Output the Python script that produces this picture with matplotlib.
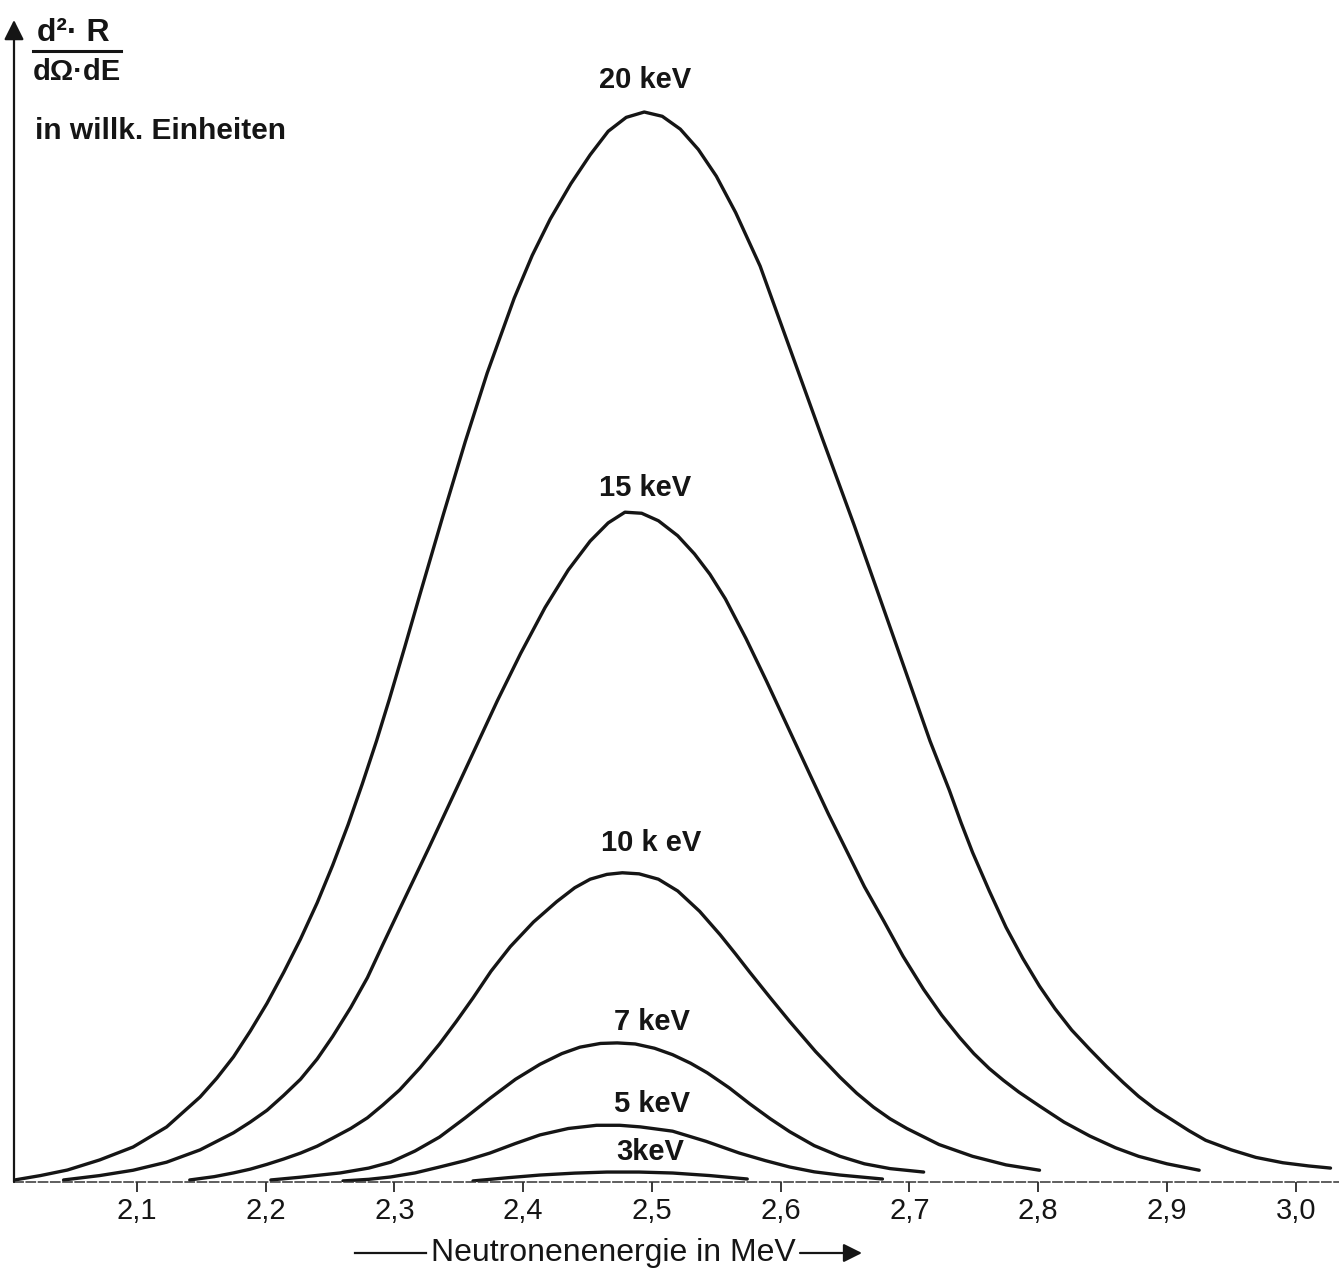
"""
Neutronenspektren d2R/(dOmega dE) fuer verschiedene Temperaturen (3 - 20 keV)
Nachbau einer alten Strichzeichnung mit matplotlib
"""

import matplotlib
matplotlib.use('Agg')
import matplotlib.pyplot as plt
from matplotlib.lines import Line2D

FONT = ['Liberation Sans', 'DejaVu Sans']
plt.rcParams['font.family'] = FONT

# --- Daten (Energie in MeV, Hoehe in willk. Einheiten) ---
e_20 = [2.005, 2.025, 2.046, 2.071, 2.097, 2.123, 2.149, 2.162, 2.175, 2.188,
        2.201, 2.214, 2.227, 2.240, 2.252, 2.264, 2.275, 2.286, 2.296, 2.308,
        2.320, 2.338, 2.355, 2.372, 2.393, 2.407, 2.421, 2.437, 2.452, 2.466,
        2.480, 2.494, 2.508, 2.522, 2.536, 2.550, 2.565, 2.584, 2.608, 2.632,
        2.657, 2.674, 2.688, 2.702, 2.716, 2.731, 2.740, 2.749, 2.762, 2.775,
        2.788, 2.801, 2.813, 2.826, 2.840, 2.853, 2.866, 2.878, 2.891, 2.904,
        2.917, 2.930, 2.950, 2.969, 2.990, 3.010, 3.027]
y_20 = [0.19, 0.6, 1.12, 2.06, 3.27, 5.14, 7.94, 9.7, 11.7, 14.1,
        16.7, 19.6, 22.7, 26.1, 29.6, 33.4, 37.2, 41.2, 45.1, 50.0,
        55.0, 62.4, 69.2, 75.6, 82.6, 86.6, 90.0, 93.3, 96.0, 98.2,
        99.5, 100.0, 99.6, 98.4, 96.5, 94.0, 90.6, 85.6, 77.6, 69.6,
        61.4, 55.6, 50.8, 46.0, 41.2, 36.6, 33.6, 30.8, 27.2, 23.8,
        20.9, 18.3, 16.2, 14.2, 12.4, 10.8, 9.3, 8.0, 6.8, 5.8,
        4.8, 3.9, 3.0, 2.3, 1.8, 1.5, 1.3]

e_15 = [2.043, 2.071, 2.097, 2.123, 2.149, 2.175, 2.188, 2.201, 2.214, 2.227,
        2.240, 2.252, 2.266, 2.279, 2.291, 2.304, 2.327, 2.346, 2.363, 2.380,
        2.398, 2.417, 2.435, 2.452, 2.466, 2.479, 2.492, 2.505, 2.520, 2.533,
        2.545, 2.557, 2.573, 2.589, 2.606, 2.623, 2.637, 2.651, 2.665, 2.680,
        2.695, 2.711, 2.725, 2.739, 2.750, 2.762, 2.773, 2.785, 2.801, 2.820,
        2.840, 2.860, 2.878, 2.900, 2.925]
y_15 = [0.19, 0.6, 1.1, 1.85, 3.0, 4.6, 5.6, 6.7, 8.1, 9.6,
        11.5, 13.6, 16.3, 19.1, 22.2, 25.5, 31.3, 36.2, 40.6, 45.0,
        49.4, 53.7, 57.2, 59.9, 61.6, 62.6, 62.5, 61.8, 60.4, 58.7,
        56.8, 54.5, 50.8, 46.8, 42.4, 38.0, 34.4, 31.0, 27.6, 24.4,
        21.1, 18.0, 15.6, 13.5, 12.0, 10.6, 9.5, 8.4, 7.1, 5.6,
        4.3, 3.2, 2.4, 1.7, 1.1]

e_10 = [2.141, 2.160, 2.175, 2.188, 2.201, 2.214, 2.227, 2.240, 2.252, 2.266,
        2.279, 2.291, 2.304, 2.320, 2.335, 2.348, 2.361, 2.375, 2.390, 2.408,
        2.426, 2.440, 2.452, 2.465, 2.477, 2.490, 2.505, 2.520, 2.537, 2.553,
        2.565, 2.576, 2.592, 2.607, 2.627, 2.646, 2.659, 2.672, 2.685, 2.698,
        2.723, 2.749, 2.775, 2.801]
y_10 = [0.19, 0.5, 0.85, 1.2, 1.65, 2.15, 2.7, 3.35, 4.1, 5.0,
        6.0, 7.2, 8.6, 10.7, 12.9, 15.0, 17.2, 19.7, 22.0, 24.3,
        26.2, 27.5, 28.3, 28.75, 28.9, 28.8, 28.3, 27.2, 25.3, 23.1,
        21.3, 19.6, 17.2, 15.0, 12.2, 9.8, 8.3, 7.0, 5.9, 5.0,
        3.5, 2.4, 1.6, 1.1]

e_7 = [2.204, 2.227, 2.258, 2.280, 2.297, 2.316, 2.335, 2.355, 2.374, 2.394,
       2.413, 2.430, 2.444, 2.460, 2.473, 2.487, 2.502, 2.516, 2.530, 2.543,
       2.560, 2.576, 2.592, 2.607, 2.626, 2.646, 2.665, 2.685, 2.711]
y_7 = [0.19, 0.45, 0.85, 1.3, 1.85, 2.9, 4.2, 6.0, 7.8, 9.6,
       11.0, 12.0, 12.6, 12.95, 13.0, 12.9, 12.5, 11.9, 11.1, 10.2,
       8.8, 7.3, 5.9, 4.7, 3.4, 2.4, 1.7, 1.25, 0.93]

e_5 = [2.260, 2.280, 2.297, 2.316, 2.335, 2.355, 2.374, 2.394, 2.413, 2.435,
       2.457, 2.475, 2.491, 2.516, 2.542, 2.568, 2.588, 2.607, 2.626, 2.646,
       2.679]
y_5 = [0.1, 0.25, 0.47, 0.85, 1.4, 2.0, 2.7, 3.6, 4.4, 5.0,
       5.3, 5.3, 5.15, 4.75, 3.8, 2.7, 2.0, 1.4, 0.95, 0.65,
       0.28]

e_3 = [2.361, 2.388, 2.413, 2.440, 2.465, 2.490, 2.516, 2.545, 2.574]
y_3 = [0.1, 0.4, 0.65, 0.83, 0.93, 0.93, 0.84, 0.6, 0.28]

curves = [(e_20, y_20), (e_15, y_15), (e_10, y_10), (e_7, y_7), (e_5, y_5), (e_3, y_3)]

# Beschriftung der Kurven: Text, Energie, Hoehe
curve_labels = ['20 keV', '15 keV', '10 k eV', '7 keV', '5 keV', '3keV']
label_e = [2.495, 2.495, 2.499, 2.500, 2.500, 2.499]
label_y = [103.0, 64.9, 31.7, 15.0, 7.3, 2.8]

xticks = [2.1, 2.2, 2.3, 2.4, 2.5, 2.6, 2.7, 2.8, 2.9, 3.0]
xtick_labels = ['2,1', '2,2', '2,3', '2,4', '2,5', '2,6', '2,7', '2,8', '2,9', '3,0']

# --- Figur ---
W, H = 1339, 1274
fig = plt.figure(figsize=(W / 100, H / 100), dpi=100)
fig.patch.set_facecolor('white')

ax_left, ax_bottom = 14 / W, (H - 1182) / H
ax_top = (H - 20) / H
ax = fig.add_axes([ax_left, ax_bottom, 1 - ax_left, ax_top - ax_bottom])
ax.set_facecolor('none')

INK = '#151515'
for e, y in curves:
    ax.plot(e, y, color=INK, linewidth=2.4, solid_capstyle='round', solid_joinstyle='round')

for txt, xe, ye in zip(curve_labels, label_e, label_y):
    ax.text(xe, ye, txt, ha='center', va='center', fontsize=21, color=INK,
            fontweight='bold')

ax.set_xlim(2.0045, 3.0336)
ax.set_ylim(0, 108.6)

# Achsen
for s in ['top', 'right', 'left']:
    ax.spines[s].set_visible(False)
ax.spines['bottom'].set_linestyle((0, (6, 2)))
ax.spines['bottom'].set_linewidth(1.1)
ax.spines['bottom'].set_color('#333333')

ax.set_xticks(xticks)
ax.set_xticklabels(xtick_labels, fontsize=21, color=INK)
ax.tick_params(axis='x', direction='out', length=7, width=1.2, pad=4, colors=INK)
ax.set_yticks([])

# y-Achse mit Pfeil
ax.annotate('', xy=(0, 1.0), xytext=(0, 0), xycoords='axes fraction',
            arrowprops=dict(arrowstyle='-|>', lw=1.6, color=INK, mutation_scale=30,
                            shrinkA=0, shrinkB=0))

# y-Beschriftung als Bruch
fig.text(37 / W, 1 - 33 / H, 'd²· R', ha='left', va='center', fontsize=23,
         fontweight='bold', color=INK)
fig.add_artist(Line2D([33 / W, 121 / W], [1 - 51 / H, 1 - 51 / H], color=INK, lw=2.2))
fig.text(33 / W, 1 - 72 / H, 'dΩ·dE', ha='left', va='center', fontsize=21,
         fontweight='bold', color=INK)
fig.text(35 / W, 1 - 131 / H, 'in willk. Einheiten', ha='left', va='center', fontsize=21.5,
         fontweight='bold', color=INK)

# x-Beschriftung mit Strich und Pfeil
y_lab = 1 - 1253 / H
fig.text(613 / W, y_lab, 'Neutronenenergie in MeV', ha='center', va='center',
         fontsize=23, color=INK)
fig.add_artist(Line2D([355 / W, 426 / W], [y_lab, y_lab], color=INK, lw=1.6))
ax.annotate('', xy=(862 / W, y_lab), xytext=(800 / W, y_lab), xycoords='figure fraction',
            arrowprops=dict(arrowstyle='-|>', lw=1.6, color=INK, mutation_scale=28,
                            shrinkA=0, shrinkB=0), annotation_clip=False)

fig.savefig('out.png', dpi=100, facecolor='white')
plt.close(fig)
